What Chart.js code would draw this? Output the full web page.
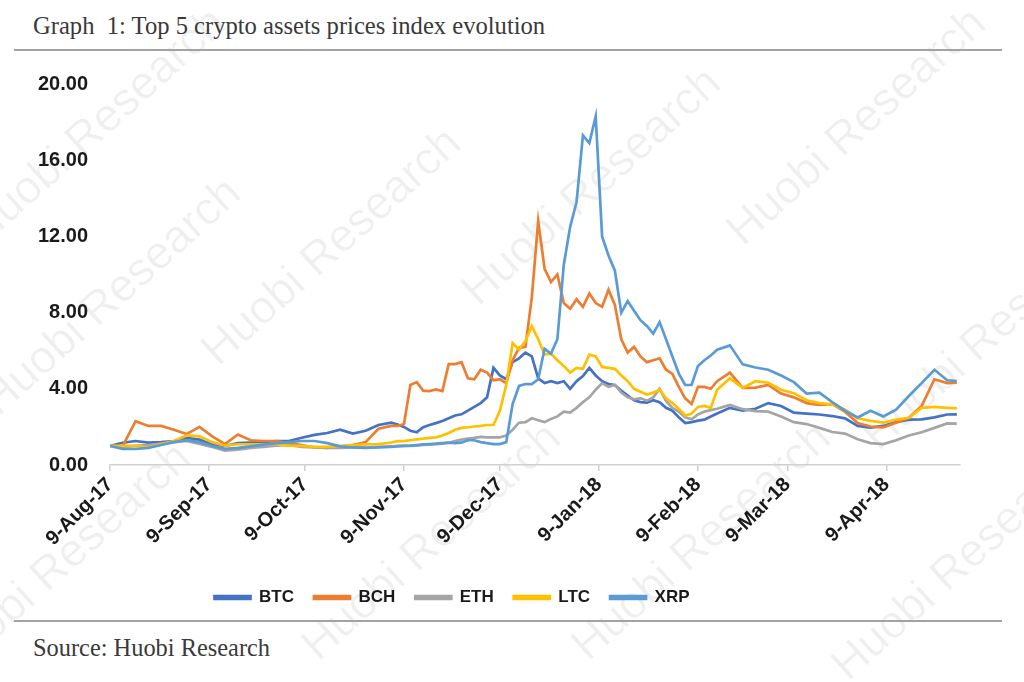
<!DOCTYPE html>
<html>
<head>
<meta charset="utf-8">
<script src="https://cdn.jsdelivr.net/npm/chart.js@4.4.1/dist/chart.umd.min.js"></script>
<style>
body{margin:0;background:#fff;width:1024px;height:682px;overflow:hidden;position:relative;font-family:"Liberation Serif","Times New Roman",serif}
#title{position:absolute;left:33px;top:12px;font-size:24.6px;color:#3a3a3a;white-space:pre}
.rule{position:absolute;left:14px;width:988px;height:2px;background:#a3a3a3}
#src{position:absolute;left:33px;top:634px;font-size:24.4px;color:#3a3a3a}
.wm{position:absolute;font-family:"Liberation Sans",Arial,sans-serif;font-size:46px;color:rgba(0,0,0,0.06);transform:translate(-50%,-50%) rotate(-42deg);white-space:nowrap}
#wrap{position:absolute;left:-56px;top:50px;width:1056px;height:570px}
</style>
</head>
<body>
<div class="wm" style="left:95px;top:125px">Huobi Research</div>
<div class="wm" style="left:110px;top:295px">Huobi Research</div>
<div class="wm" style="left:330px;top:245px">Huobi Research</div>
<div class="wm" style="left:590px;top:185px">Huobi Research</div>
<div class="wm" style="left:855px;top:125px">Huobi Research</div>
<div class="wm" style="left:60px;top:560px">Huobi Research</div>
<div class="wm" style="left:430px;top:540px">Huobi Research</div>
<div class="wm" style="left:700px;top:540px">Huobi Research</div>
<div class="wm" style="left:960px;top:560px">Huobi Research</div>
<div class="wm" style="left:990px;top:330px">Huobi Research</div>

<div id="title">Graph  1: Top 5 crypto assets prices index evolution</div>
<div class="rule" style="top:49px"></div>
<div id="wrap"><canvas id="chart"></canvas></div>
<div class="rule" style="top:620px"></div>
<div id="src">Source: Huobi Research</div>

<script>
// days since 9-Aug-17
const days = [0,4,8,12,16,20,24,28,32,36,40,44,48,52,56,60,64,68,72,76,80,84,88,
  90,92,94,96,98,100,102,104,106,108,110,112,114,116,118,120,122,124,126,128,130,132,134,136,138,140,
  142,144,146,148,150,152,154,156,158,160,162,164,166,168,170,172,174,176,178,180,182,184,186,188,190,
  194,198,202,206,210,214,218,222,226,230,234,238,242,246,250,254,258,262,265];

const btc = [1.0,1.17,1.26,1.17,1.2,1.26,1.42,1.33,1.08,1.0,1.15,1.17,1.2,1.26,1.26,1.43,1.58,1.68,1.85,1.65,1.8,2.1,2.22,
  2.13,2.0,1.8,1.72,1.98,2.1,2.2,2.31,2.45,2.6,2.66,2.85,3.05,3.25,3.55,5.1,4.7,4.5,5.4,5.6,5.9,5.7,4.55,4.3,4.4,4.3,
  4.4,4.0,4.4,4.67,5.1,4.7,4.4,4.25,4.2,3.9,3.65,3.4,3.3,3.27,3.4,3.3,3.0,2.85,2.5,2.2,2.25,2.33,2.38,2.55,2.7,
  3.0,2.85,2.95,3.25,3.1,2.75,2.7,2.65,2.57,2.45,2.05,1.96,2.05,2.25,2.38,2.4,2.5,2.65,2.66];

const bch = [null,1.0,2.3,2.05,2.05,1.85,1.62,2.0,1.5,1.1,1.6,1.3,1.26,1.26,1.15,1.05,0.92,0.9,0.95,1.05,1.2,1.9,2.05,
  2.05,2.15,4.2,4.35,3.9,3.88,3.97,3.88,5.3,5.3,5.4,4.55,4.5,5.0,4.85,4.45,4.5,4.3,5.5,6.15,6.2,8.8,12.8,10.3,9.6,10.0,
  8.5,8.2,8.7,8.3,9.0,8.5,8.3,9.2,8.4,6.6,5.9,6.2,5.7,5.4,5.5,5.6,5.0,4.78,4.1,3.5,3.2,4.1,4.1,4.0,4.4,
  4.85,4.05,4.06,4.2,3.75,3.55,3.25,3.15,3.2,2.8,2.2,2.02,1.98,2.22,2.48,3.1,4.5,4.3,4.32];

const eth = [1.0,0.95,1.0,1.05,1.12,1.2,1.26,1.1,0.95,0.75,0.8,0.9,0.95,1.02,1.05,0.95,0.92,0.9,0.9,0.92,0.92,0.95,0.98,
  1.0,1.02,1.0,1.02,1.05,1.07,1.1,1.12,1.17,1.25,1.33,1.38,1.42,1.48,1.45,1.45,1.45,1.55,1.85,2.22,2.25,2.45,2.35,2.25,2.42,2.55,
  2.8,2.75,3.0,3.3,3.55,3.95,4.3,4.1,4.2,3.8,3.55,3.45,3.5,3.38,3.55,4.0,3.36,3.0,2.8,2.5,2.4,2.66,2.8,2.88,2.95,
  3.15,2.93,2.83,2.8,2.55,2.25,2.15,1.95,1.73,1.65,1.35,1.15,1.1,1.3,1.55,1.72,1.95,2.18,2.17];

const ltc = [1.0,1.0,1.0,0.93,1.1,1.26,1.55,1.5,1.2,1.02,1.09,1.09,1.09,1.09,1.02,1.0,0.95,0.95,1.0,1.05,1.08,1.1,1.18,
  1.25,1.25,1.3,1.35,1.38,1.42,1.45,1.55,1.68,1.85,1.95,1.98,2.02,2.05,2.1,2.1,2.85,4.2,6.4,6.05,6.5,7.3,6.6,5.8,5.85,5.5,
  5.2,4.85,5.1,5.05,5.8,5.7,5.15,5.1,5.05,4.7,4.4,4.0,3.85,3.7,3.8,3.95,3.5,3.25,2.95,2.6,2.7,3.05,3.1,3.0,3.95,
  4.55,4.05,4.4,4.32,3.95,3.77,3.4,3.25,3.18,2.9,2.45,2.32,2.22,2.38,2.48,3.0,3.05,3.0,2.97];

const xrp = [1.0,0.85,0.84,0.9,1.05,1.2,1.3,1.2,1.0,0.85,0.9,0.98,1.07,1.15,1.2,1.26,1.26,1.15,0.98,0.92,0.9,0.92,0.95,
  0.97,1.0,1.02,1.05,1.08,1.1,1.12,1.15,1.17,1.15,1.17,1.3,1.3,1.2,1.15,1.1,1.1,1.2,3.2,4.15,4.25,4.25,4.5,6.1,5.85,6.6,
  10.5,12.5,13.8,17.3,16.9,18.3,12.0,11.0,10.2,8.0,8.6,8.1,7.6,7.3,6.9,7.5,6.6,5.7,4.8,4.2,4.2,5.2,5.5,5.75,6.05,
  6.28,5.28,5.12,5.0,4.7,4.35,3.75,3.8,3.3,2.85,2.5,2.85,2.55,2.9,3.62,4.3,5.0,4.45,4.4];

const tickDays = [0,31,61,92,122,153,184,212,243];
const tickLabels = ["9-Aug-17","9-Sep-17","9-Oct-17","9-Nov-17","9-Dec-17","9-Jan-18","9-Feb-18","9-Mar-18","9-Apr-18"];

const names = ["BTC","BCH","ETH","LTC","XRP"];
const colors = ["#4472C4","#ED7D31","#A5A5A5","#FFC000","#5B9BD5"];
const series = [btc,bch,eth,ltc,xrp];

const datasets = series.map((vals,k)=>({
  label: names[k],
  data: days.map((d,i)=>({x:d,y:vals[i]})),
  borderColor: colors[k],
  backgroundColor: colors[k],
  borderWidth: 2.7,
  pointRadius: 0,
  tension: 0,
  order: 5-k
}));

new Chart(document.getElementById("chart"), {
  type: "line",
  data: {datasets: datasets},
  options: {
    responsive: true,
    maintainAspectRatio: false,
    animation: false,
    layout: {padding: {top: 14, right: 40, bottom: 4, left: 0}},
    plugins: {
      tooltip: {enabled: false},
      legend: {
        position: "bottom",
        labels: {
          boxWidth: 36, boxHeight: 3, padding: 20,
          color: "#1a1a1a",
          font: {family: "'Liberation Sans', Arial, sans-serif", size: 17, weight: "bold"},
          sort: (a,b)=>a.datasetIndex-b.datasetIndex
        }
      }
    },
    scales: {
      x: {
        type: "linear", min: 0, max: 266,
        afterBuildTicks: s => { s.ticks = tickDays.map(v=>({value:v})); },
        afterFit: s => { s.height = 104; },
        ticks: {
          autoSkip: false, minRotation: 45, maxRotation: 45, padding: 2,
          color: "#1a1a1a",
          font: {family: "'Liberation Sans', Arial, sans-serif", size: 20, weight: "bold"},
          callback: v => tickLabels[tickDays.indexOf(v)]
        },
        grid: {drawOnChartArea: false, drawTicks: true, tickLength: 6, color: "#d0d0d0", lineWidth: 1.5},
        border: {color: "#d0d0d0", width: 1.5}
      },
      y: {
        min: 0, max: 20,
        afterFit: s => { s.width = 166; },
        ticks: {
          stepSize: 4, padding: 22,
          color: "#1a1a1a",
          font: {family: "'Liberation Sans', Arial, sans-serif", size: 20, weight: "bold"},
          callback: v => v.toFixed(2)
        },
        grid: {display: false, drawTicks: false},
        border: {display: false}
      }
    }
  }
});
</script>
</body>
</html>
